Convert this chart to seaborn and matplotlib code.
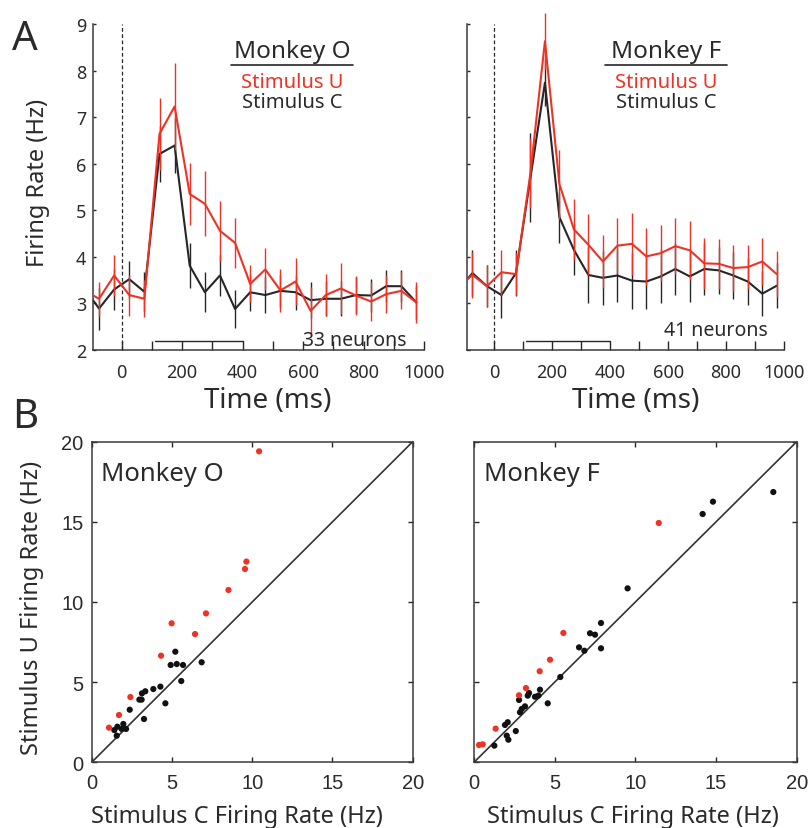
import matplotlib
matplotlib.use("Agg")
import matplotlib.pyplot as plt
from matplotlib.lines import Line2D
import pandas as pd
import seaborn as sns

W, H = 811, 829
RED = "#ee3224"
DARK = "#262626"

# ---- panel A: mean firing rate (Hz) per 50 ms bin, +/- s.e.m. ----
bin_ms = [-125, -75, -25, 25, 75, 125, 175, 225, 275, 325, 375, 425,
          475, 525, 575, 625, 675, 725, 775, 825, 875, 925, 975]

o_rate_u = [3.28, 3.10, 3.60, 3.18, 3.10, 6.64, 7.23, 5.35, 5.14, 4.56, 4.30, 3.42,
            3.73, 3.28, 3.47, 2.84, 3.18, 3.32, 3.17, 3.04, 3.20, 3.27, 3.02]
o_err_u = [0.40, 0.37, 0.44, 0.44, 0.40, 0.78, 0.93, 0.67, 0.70, 0.64, 0.54, 0.40,
           0.45, 0.47, 0.50, 0.52, 0.45, 0.54, 0.42, 0.42, 0.41, 0.40, 0.44]
o_rate_c = [3.34, 2.89, 3.30, 3.52, 3.25, 6.21, 6.39, 3.81, 3.24, 3.60, 2.88, 3.24,
            3.18, 3.27, 3.24, 3.07, 3.10, 3.10, 3.18, 3.17, 3.37, 3.37, 3.02]
o_err_c = [0.45, 0.45, 0.45, 0.40, 0.42, 0.60, 0.60, 0.48, 0.43, 0.45, 0.40, 0.40,
           0.38, 0.35, 0.38, 0.38, 0.38, 0.38, 0.38, 0.35, 0.35, 0.35, 0.35]

f_rate_u = [3.35, 3.61, 3.37, 3.67, 3.63, 5.80, 8.63, 5.56, 4.59, 4.26, 3.90, 4.24,
            4.28, 4.01, 4.08, 4.23, 4.14, 3.86, 3.85, 3.76, 3.78, 3.90, 3.63]
f_err_u = [0.45, 0.49, 0.45, 0.48, 0.45, 0.76, 0.60, 0.74, 0.65, 0.65, 0.56, 0.60,
           0.67, 0.62, 0.60, 0.60, 0.64, 0.55, 0.54, 0.50, 0.48, 0.50, 0.49]
f_rate_c = [3.30, 3.65, 3.37, 3.18, 3.65, 5.70, 7.74, 4.85, 4.15, 3.61, 3.55, 3.60,
            3.49, 3.47, 3.58, 3.74, 3.58, 3.74, 3.71, 3.60, 3.47, 3.21, 3.38]
f_err_c = [0.50, 0.50, 0.45, 0.50, 0.50, 0.95, 0.50, 0.55, 0.55, 0.60, 0.58, 0.58,
           0.60, 0.60, 0.58, 0.55, 0.55, 0.55, 0.50, 0.50, 0.50, 0.48, 0.48]

# ---- panel B: per-neuron rates, stimulus C (x) vs stimulus U (y) ----
o_c_sig = [10.43, 9.64, 9.55, 8.52, 7.12, 4.98, 6.44, 4.32, 2.41, 1.70, 1.08]
o_u_sig = [19.40, 12.52, 12.06, 10.75, 9.29, 8.67, 8.00, 6.65, 4.07, 2.95, 2.16]
o_c_ns = [5.21, 4.92, 5.30, 5.69, 6.85, 5.58, 4.28, 3.84, 3.34, 3.13, 2.97,
          3.11, 4.59, 2.37, 3.26, 1.41, 1.60, 1.97, 1.87, 2.14, 1.56]
o_u_ns = [6.90, 6.07, 6.13, 6.07, 6.24, 5.07, 4.72, 4.57, 4.43, 4.30, 3.91,
          3.91, 3.68, 3.28, 2.70, 2.01, 2.22, 2.39, 2.08, 2.08, 1.66]

f_c_sig = [11.45, 5.54, 4.71, 4.07, 3.22, 2.79, 1.34, 0.31, 0.54]
f_u_sig = [14.93, 8.07, 6.40, 5.68, 4.63, 4.18, 2.10, 1.08, 1.12]
f_c_ns = [18.55, 14.81, 14.17, 9.52, 7.87, 7.19, 7.50, 6.51, 6.84, 7.87, 5.35, 4.09, 3.99, 3.41,
          3.33, 3.78, 4.57, 2.79, 3.16, 2.96, 2.85, 2.09, 1.92, 2.59, 2.03, 2.13, 1.26]
f_u_ns = [16.86, 16.26, 15.49, 10.85, 8.69, 8.05, 7.96, 7.17, 6.96, 7.11, 5.32, 4.53, 4.16, 4.32,
          4.16, 4.09, 3.68, 3.89, 3.49, 3.33, 3.12, 2.50, 2.33, 1.95, 1.66, 1.41, 1.04]

sns.set_theme(style="white")
plt.rcParams["font.family"] = ["Noto Sans", "DejaVu Sans"]
plt.rcParams["axes.edgecolor"] = "#3a3a3a"
plt.rcParams["axes.linewidth"] = 1.1

fig = plt.figure(figsize=(W / 100, H / 100), dpi=100)


def axes_px(left, top, right, bottom):
    return fig.add_axes([left / W, 1 - bottom / H, (right - left) / W, (bottom - top) / H])


def text_px(x, y, s, **kw):
    fig.text(x / W, 1 - y / H, s, **kw)


def hline_px(x0, x1, y):
    fig.add_artist(Line2D([x0 / W, x1 / W], [1 - y / H] * 2, transform=fig.transFigure,
                          color=DARK, lw=1.2))


def draw_psth(ax, u, u_err, c, c_err, show_y):
    df = pd.DataFrame({"time": bin_ms, "u": u, "c": c})
    sns.lineplot(data=df, x="time", y="c", color=DARK, lw=1.5, ax=ax, zorder=2)
    ax.errorbar(bin_ms[1:], c[1:], yerr=c_err[1:], fmt="none", ecolor=DARK,
                elinewidth=1.0, capsize=0, zorder=2, clip_on=False)
    sns.lineplot(data=df, x="time", y="u", color=RED, lw=1.5, ax=ax, zorder=3)
    ax.errorbar(bin_ms[1:], u[1:], yerr=u_err[1:], fmt="none", ecolor=RED,
                elinewidth=1.0, capsize=0, zorder=3, clip_on=False)
    ax.axvline(0, color=DARK, ls=(0, (3, 2)), lw=0.9, zorder=1)
    ax.plot([110, 400], [2.2, 2.2], color=DARK, lw=1.0)

    ax.set_xlim(-95, 1000)
    ax.set_ylim(2, 9)
    ax.set_xticks(range(0, 1001, 100))
    ax.set_xticklabels([str(t) if t % 200 == 0 else "" for t in range(0, 1001, 100)])
    ax.set_yticks(range(2, 10))
    if not show_y:
        ax.set_yticklabels([])
    ax.tick_params(axis="x", direction="in", length=6.5, width=1, pad=9,
                   labelsize=13, labelcolor="#2a2a2a", bottom=True)
    ax.tick_params(axis="y", direction="in", length=2.5, width=1, pad=5,
                   labelsize=13, labelcolor="#2a2a2a", left=True)
    for lab in ax.get_xticklabels() + ax.get_yticklabels():
        lab.set_fontweight("semibold")
    ax.set_xlabel("")
    ax.set_ylabel("")
    sns.despine(ax=ax)


def draw_scatter(ax, cx, uy, cx_sig, uy_sig, name, show_y):
    ax.plot([0, 20], [0, 20], color="#333333", lw=1.2, zorder=1)
    sns.scatterplot(x=cx, y=uy, color="#111111", s=20, edgecolor="none", ax=ax, zorder=2)
    sns.scatterplot(x=cx_sig, y=uy_sig, color=RED, s=20, edgecolor="none", ax=ax, zorder=3)
    ax.set_xlim(0, 20)
    ax.set_ylim(0, 20)
    ax.set_xticks(range(0, 21, 5))
    ax.set_yticks(range(0, 21, 5))
    if not show_y:
        ax.set_yticklabels([])
    ax.tick_params(direction="in", top=True, right=True, bottom=True, left=True,
                   length=3.5, width=1, labelsize=14.5, labelcolor="#2a2a2a")
    ax.tick_params(axis="x", pad=8)
    ax.tick_params(axis="y", pad=6)
    for lab in ax.get_xticklabels() + ax.get_yticklabels():
        lab.set_family(["Liberation Sans", "DejaVu Sans"])
    ax.text(0.03, 0.88, name, transform=ax.transAxes, fontsize=18.5, color="#2a2a2a")


axO = axes_px(93, 25, 424, 351)
axF = axes_px(466.7, 25, 784, 351)
bxO = axes_px(91.7, 442.7, 412.7, 763.3)
bxF = axes_px(474, 442.7, 796.7, 763.3)

draw_psth(axO, o_rate_u, o_err_u, o_rate_c, o_err_c, True)
draw_psth(axF, f_rate_u, f_err_u, f_rate_c, f_err_c, False)
draw_scatter(bxO, o_c_ns, o_u_ns, o_c_sig, o_u_sig, "Monkey O", True)
draw_scatter(bxF, f_c_ns, f_u_ns, f_c_sig, f_u_sig, "Monkey F", False)

# panel headers
for cx, name in [(292, "Monkey O"), (666, "Monkey F")]:
    text_px(cx, 58, name, fontsize=17.5, ha="center", va="baseline", color="#2a2a2a")
    hline_px(cx - 61, cx + 61, 66)
    text_px(cx, 88, "Stimulus U", fontsize=14.5, ha="center", va="baseline", color=RED)
    text_px(cx, 108, "Stimulus C", fontsize=14.5, ha="center", va="baseline", color="#2a2a2a")

text_px(355, 346, "33 neurons", fontsize=14, ha="center", va="baseline", color="#2a2a2a")
text_px(716, 336, "41 neurons", fontsize=14, ha="center", va="baseline", color="#2a2a2a")

# panel letters and axis titles
text_px(12, 50, "A", fontsize=29, va="baseline", color="#2a2a2a")
text_px(12, 428, "B", fontsize=29, va="baseline", color="#2a2a2a")
text_px(38, 183, "Firing Rate (Hz)", fontsize=17, rotation=90, ha="center", va="center", color="#2a2a2a")
text_px(268, 408, "Time (ms)", fontsize=20, ha="center", va="baseline", color="#2a2a2a")
text_px(636, 408, "Time (ms)", fontsize=20, ha="center", va="baseline", color="#2a2a2a")
text_px(32, 608, "Stimulus U Firing Rate (Hz)", fontsize=17, rotation=90, ha="center", va="center", color="#2a2a2a")
text_px(237, 823, "Stimulus C Firing Rate (Hz)", fontsize=17, ha="center", va="baseline", color="#2a2a2a")
text_px(633, 823, "Stimulus C Firing Rate (Hz)", fontsize=17, ha="center", va="baseline", color="#2a2a2a")

fig.savefig("out.png", dpi=100)
